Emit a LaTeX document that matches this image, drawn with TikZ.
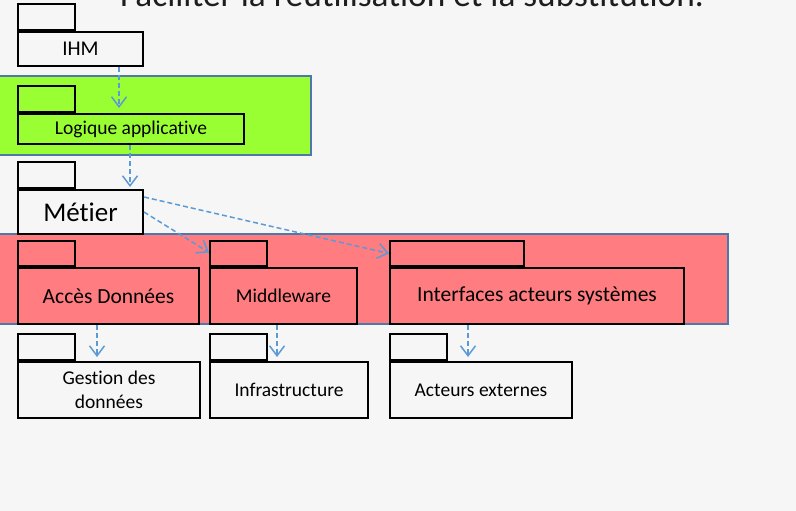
\documentclass[tikz,border=0pt]{standalone}
\usepackage{fontspec}
\setmainfont{Carlito}[Ligatures=NoCommon]
\usetikzlibrary{arrows.meta,calc}
\definecolor{bg}{RGB}{246,246,246}
\definecolor{lgreen}{RGB}{153,255,51}
\definecolor{lred}{RGB}{255,124,128}
\definecolor{frameblue}{RGB}{79,120,170}
\definecolor{arrowblue}{RGB}{91,155,213}
\definecolor{titlecol}{RGB}{30,30,30}
\tikzset{
  container/.style={draw=frameblue, line width=1.3pt},
  pkgbody/.style={draw=black, line width=2pt, rectangle, anchor=north west, inner sep=0pt, align=center},
  pkgtab/.style={draw=black, line width=2pt, rectangle, anchor=south west, inner sep=0pt, minimum height=25pt},
  dep/.style={draw=arrowblue, line width=1.5pt, dash pattern=on 5pt off 3pt, -{Straight Barb[length=10pt,width=15pt,line width=1.5pt]}}
}
\begin{document}
\begin{tikzpicture}[x=1pt,y=-1pt]
\useasboundingbox (0,0) rectangle (796,511);
\clip (0,0) rectangle (796,511);
\fill[bg] (0,0) rectangle (796,511);
% title (cut off at the top, as in the reference)
\node[anchor=base west, inner sep=0pt, text=titlecol, font=\fontsize{35.3}{40}\selectfont] (title) at (120,7) {Faciliter la réutilisation et la substitution.};
% containers
\draw[container, fill=lgreen] (-2,76) rectangle (311,155);
\draw[container, fill=lred] (-2,234) rectangle (728,324);
% packages
\node[pkgbody, minimum width=125pt, minimum height=34pt, font=\fontsize{21}{25}\selectfont] (ihm) at (17,31) {IHM};
\node[pkgtab, minimum width=57pt, minimum height=26pt] (ihmtab) at (ihm.north west) {};
\node[pkgbody, minimum width=226pt, minimum height=30pt, font=\fontsize{19.5}{23}\selectfont] (logique) at (17,113) {Logique applicative};
\node[pkgtab, minimum width=57pt, minimum height=26pt] (logiquetab) at (logique.north west) {};
\node[pkgbody, minimum width=125pt, minimum height=44pt, font=\fontsize{27}{32}\selectfont] (metier) at (17,189) {Métier};
\node[pkgtab, minimum width=57pt, minimum height=26pt] (metiertab) at (metier.north west) {};
\node[pkgbody, minimum width=181pt, minimum height=56pt, font=\fontsize{21.5}{26}\selectfont] (acces) at (17,267) {Accès Données};
\node[pkgtab, minimum width=57pt] (accestab) at (acces.north west) {};
\node[pkgbody, minimum width=147pt, minimum height=56pt, font=\fontsize{19.5}{23}\selectfont] (middle) at (209,267) {Middleware};
\node[pkgtab, minimum width=57pt] (middletab) at (middle.north west) {};
\node[pkgbody, minimum width=294pt, minimum height=56pt, font=\fontsize{21.5}{26}\selectfont] (interf) at (389,267) {\raisebox{-2pt}{Interfaces acteurs systèmes}};
\node[pkgtab, minimum width=134pt] (interftab) at (interf.north west) {};
\node[pkgbody, minimum width=182pt, minimum height=56pt, font=\fontsize{19.5}{24}\selectfont] (gestion) at (17,361) {Gestion des\\données};
\node[pkgtab, minimum width=57pt, minimum height=26pt] (gestiontab) at (gestion.north west) {};
\node[pkgbody, minimum width=158pt, minimum height=56pt, font=\fontsize{19.5}{23}\selectfont] (infra) at (209,361) {Infrastructure};
\node[pkgtab, minimum width=57pt, minimum height=26pt] (infratab) at (infra.north west) {};
\node[pkgbody, minimum width=182pt, minimum height=56pt, font=\fontsize{19.5}{23}\selectfont] (acteurs) at (389,361) {Acteurs externes};
\node[pkgtab, minimum width=57pt, minimum height=26pt] (acteurstab) at (acteurs.north west) {};
% connector end points
\coordinate (a1s) at (ihm.south west -| 119,0);
\coordinate (a1e) at (119,108);
\coordinate (a2s) at (logique.south west -| 130,0);
\coordinate (a2e) at (130,187);
\coordinate (a3s) at ($(metier.north east)+(0,23)$);
\coordinate (a3e) at ($(middletab.west)+(0,-1)$);
\coordinate (a4s) at ($(metier.north east)+(0,8)$);
\coordinate (a4e) at ($(interftab.west)+(0,0)$);
\coordinate (a5s) at (acces.south -| 97,0);
\coordinate (a5e) at (97,357);
\coordinate (a6s) at (middle.south -| 277,0);
\coordinate (a6e) at (277,357);
\coordinate (a7s) at (interf.south -| 468,0);
\coordinate (a7e) at (468,357);
\draw[dep] (a1s) -- (a1e);
\draw[dep] (a2s) -- (a2e);
\draw[dep] (a3s) -- (a3e);
\draw[dep] (a4s) -- (a4e);
\draw[dep] (a5s) -- (a5e);
\draw[dep] (a6s) -- (a6e);
\draw[dep] (a7s) -- (a7e);
\end{tikzpicture}
\end{document}
